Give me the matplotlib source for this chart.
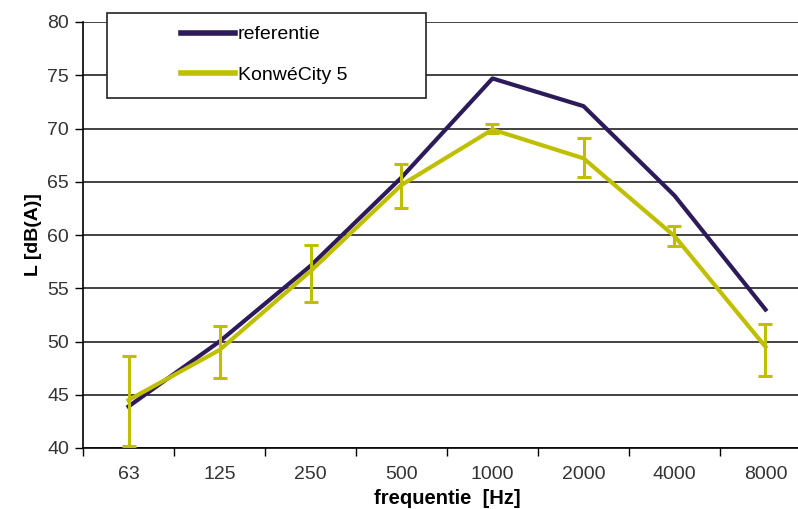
import numpy as np
import matplotlib.pyplot as plt
from matplotlib.lines import Line2D
from matplotlib.patches import Rectangle

freqs = ['63', '125', '250', '500', '1000', '2000', '4000', '8000']
referentie = [43.9, 50.0, 57.1, 65.4, 74.7, 72.1, 63.7, 53.0]
konwe = [44.5, 49.2, 56.6, 64.7, 69.9, 67.2, 59.9, 49.5]
konwe_hi = [48.6, 51.5, 59.1, 66.7, 70.4, 69.1, 60.8, 51.6]
konwe_lo = [40.2, 46.6, 53.7, 62.5, 69.6, 65.4, 59.0, 46.8]

plt.rcParams['font.family'] = ['Liberation Sans', 'DejaVu Sans']

fig = plt.figure(figsize=(7.98, 5.09), dpi=100)
ax = fig.add_axes([83 / 798, 1 - 448 / 509, 728 / 798, 426 / 509])

x = np.arange(len(freqs))
purple = '#2d1a5a'
olive = '#bfbf00'

ax.plot(x, referentie, color=purple, lw=3, zorder=3)
yerr = [np.array(konwe) - np.array(konwe_lo), np.array(konwe_hi) - np.array(konwe)]
ax.errorbar(x, konwe, yerr=yerr, color=olive, lw=3, elinewidth=2.2,
            capsize=5, capthick=2.2, zorder=4)

ax.set_xlim(-0.5, len(freqs) - 0.5)
ax.set_ylim(40, 80)
ax.set_yticks(range(40, 81, 5))
ax.yaxis.grid(True, color='#222222', lw=1.2)
ax.set_axisbelow(True)

ax.set_xticks(x)
ax.set_xticklabels(freqs)
ax.set_xticks(np.arange(-0.5, len(freqs)), minor=True)
ax.tick_params(axis='x', which='major', length=0, pad=13, labelsize=14, labelcolor='#333333')
ax.tick_params(axis='x', which='minor', length=6, width=1, direction='out')
ax.tick_params(axis='y', length=6, width=1, direction='out', labelsize=14, labelcolor='#333333', pad=4)

for side in ['top', 'right']:
    ax.spines[side].set_visible(False)
ax.spines['left'].set_linewidth(1.2)
ax.spines['bottom'].set_linewidth(1.2)

ax.set_xlabel('frequentie  [Hz]', fontweight='bold', fontsize=14.5, labelpad=4)
ax.set_ylabel('L [dB(A)]', fontweight='bold', fontsize=14, labelpad=4)

# legend box drawn separately so the handles can sit well inside it
box = Rectangle((107 / 798, 1 - 98 / 509), 319 / 798, 85 / 509, transform=fig.transFigure,
                facecolor='white', edgecolor='#222222', lw=1.2, clip_on=False, zorder=10)
ax.add_patch(box)

handles = [Line2D([], [], color=purple, lw=4), Line2D([], [], color=olive, lw=4)]
leg = ax.legend(handles, ['referentie', 'KonwéCity 5'], loc='center left',
                bbox_to_anchor=(181 / 798, 1 - 55 / 509), bbox_transform=fig.transFigure,
                frameon=False, fontsize=14, handlelength=2.78, handletextpad=0.15,
                borderpad=0, labelspacing=1.2, borderaxespad=0)
leg.set_zorder(11)

fig.savefig('out.png', dpi=100)
